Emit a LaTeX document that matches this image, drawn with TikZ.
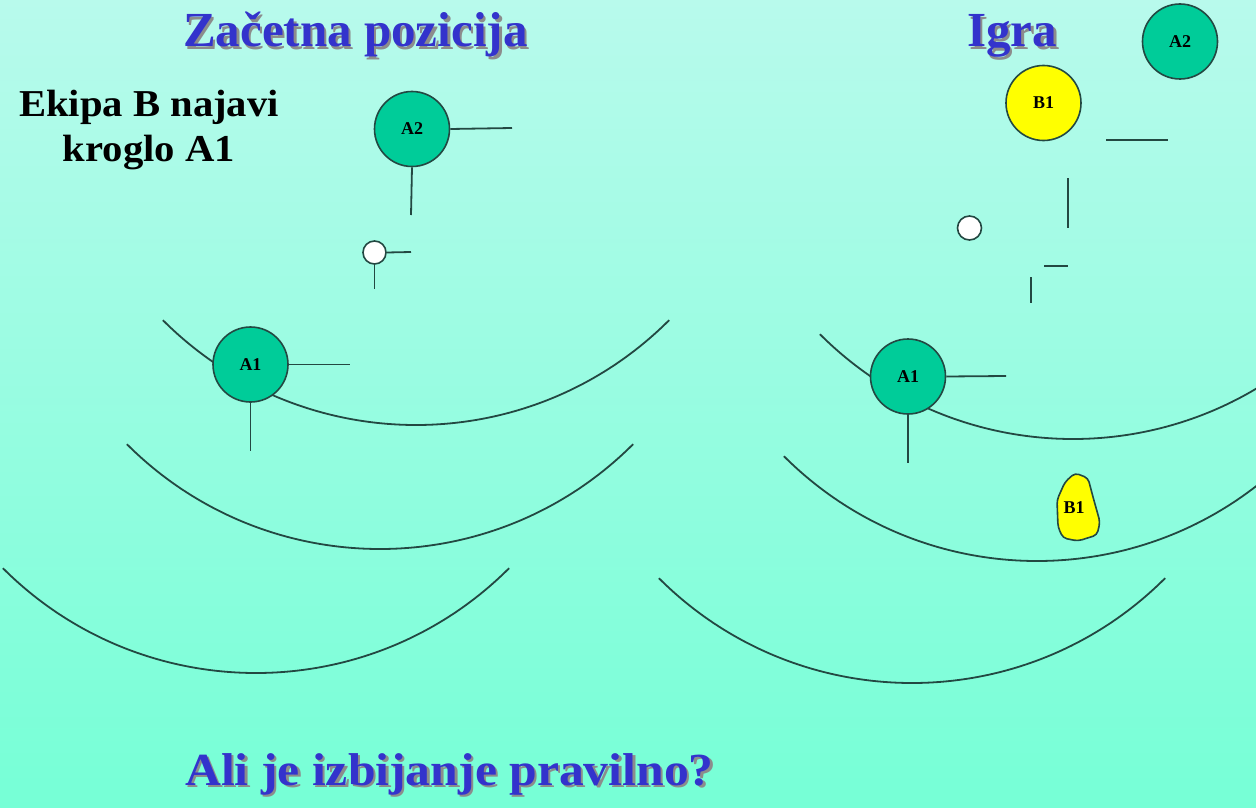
\documentclass[tikz,border=0pt]{standalone}
\usepackage{fontspec}
\setmainfont{Liberation Serif}
\definecolor{bgtop}{RGB}{184,250,236}
\definecolor{bgbot}{RGB}{118,255,214}
\definecolor{linec}{RGB}{35,72,66}
\definecolor{ballgreen}{RGB}{0,204,153}
\definecolor{ballyellow}{RGB}{255,255,0}
\definecolor{titleblue}{RGB}{51,51,204}
\tikzset{
  ln/.style={draw=linec, line width=1.8pt},
  ball/.style={circle, draw=linec, line width=1.6pt, minimum size=75pt, inner sep=0pt,
    font=\bfseries\fontsize{18}{18}\selectfont},
  greenball/.style={ball, fill=ballgreen},
  yellowball/.style={ball, fill=ballyellow},
  cueball/.style={circle, draw=linec, line width=1.6pt, fill=white, minimum size=23pt, inner sep=0pt},
  ttl/.style={font=\bfseries\fontsize{49}{49}\selectfont, text=titleblue, inner sep=0pt, anchor=base west},
  ttlshadow/.style={font=\bfseries\fontsize{49}{49}\selectfont, text=black!45, inner sep=0pt, anchor=base west},
  bottomfont/.style={font=\bfseries\fontsize{46}{46}\selectfont, xscale=1.08},
  blk/.style={font=\bfseries\fontsize{38}{45}\selectfont, align=center, inner sep=0pt, xscale=1.07}
}
\begin{document}
\begin{tikzpicture}[x=1pt,y=-1pt]
\useasboundingbox (0,0) rectangle (1256,808);
\shade[top color=bgtop, bottom color=bgbot] (0,0) rectangle (1256,808);
\clip (0,0) rectangle (1256,808);

% arcs (left)
\draw[ln] ([shift={(135:358)}]416,67) arc[start angle=135, end angle=45, radius=358];
\draw[ln] ([shift={(135:358)}]380,191) arc[start angle=135, end angle=45, radius=358];
\draw[ln] ([shift={(135:358)}]256,315) arc[start angle=135, end angle=45, radius=358];
% arcs (right)
\draw[ln] ([shift={(135:358)}]1073,81) arc[start angle=135, end angle=45, radius=358];
\draw[ln] ([shift={(135:358)}]1037,203) arc[start angle=135, end angle=45, radius=358];
\draw[ln] ([shift={(135:358)}]912,325) arc[start angle=135, end angle=45, radius=358];

% titles
\node[ttlshadow] at (185.5,49.5) {Začetna pozicija};
\node[ttl] (t1) at (183,47) {Začetna pozicija};
\node[ttlshadow] at (969.5,49.5) {Igra};
\node[ttl] (t2) at (967,47) {Igra};
\node[ttlshadow, bottomfont] at (187.5,787.5) {Ali je izbijanje pravilno?};
\node[ttl, bottomfont] (t3) at (185,785) {Ali je izbijanje pravilno?};
\node[blk] (note) at (149,130) {Ekipa B najavi\\kroglo A1};

% left panel
\node[greenball] (lA2) at (412,129) {A2};
\coordinate (lA2r) at (512,128);
\coordinate (lA2d) at (411,215);
\draw[ln] (lA2.east) -- (lA2r);
\draw[ln] (lA2.south) -- (lA2d);

\node[cueball] (lW) at (374.5,252.5) {};
\coordinate (lWr) at (411,252);
\coordinate (lWd) at (374.5,289);
\draw[ln] (lW.east) -- (lWr);
\draw[ln] (lW.south) -- (lWd);

\node[greenball] (lA1) at (250.5,364.5) {A1};
\coordinate (lA1r) at (350,364.5);
\coordinate (lA1d) at (250.5,451);
\draw[ln] (lA1.east) -- (lA1r);
\draw[ln] (lA1.south) -- (lA1d);

% right panel
\node[greenball] (rA2) at (1180,41.5) {A2};
\node[yellowball] (rB1) at (1043.5,103) {B1};
\coordinate (h1a) at (1106,140);
\coordinate (h1b) at (1168,140);
\draw[ln] (h1a) -- (h1b);
\coordinate (v1a) at (1068,178);
\coordinate (v1b) at (1068,228);
\draw[ln] (v1a) -- (v1b);
\node[cueball, minimum size=24pt] (rW) at (969.5,228) {};
\coordinate (h2a) at (1044,266);
\coordinate (h2b) at (1068,266);
\draw[ln] (h2a) -- (h2b);
\coordinate (v2a) at (1031,277);
\coordinate (v2b) at (1031,303);
\draw[ln] (v2a) -- (v2b);

\node[greenball] (rA1) at (908,376.5) {A1};
\coordinate (rA1r) at (1006,376);
\coordinate (rA1d) at (908,463);
\draw[ln] (rA1.east) -- (rA1r);
\draw[ln] (rA1.south) -- (rA1d);

% B1 blob
\draw[ln, line width=1.6pt, fill=ballyellow, rounded corners=4pt]
  (1075,473) -- (1088,478) -- (1093,497) -- (1100,522) -- (1097,535) -- (1078,541)
  -- (1063,538) -- (1058,527) -- (1057,500) -- (1065,482) -- cycle;
\node[font=\bfseries\fontsize{18}{18}\selectfont, inner sep=0pt] (bB1) at (1074,508) {B1};
\end{tikzpicture}
\end{document}
